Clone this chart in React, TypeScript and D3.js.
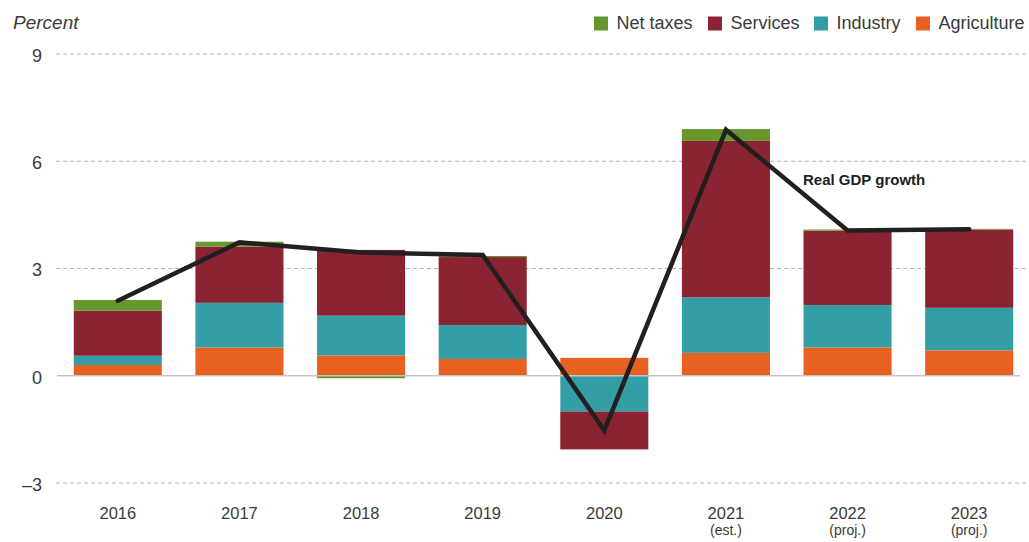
import React from "react";
import * as d3 from "d3";

const years = ["2016", "2017", "2018", "2019", "2020", "2021", "2022", "2023"];
const yearNotes = ["", "", "", "", "", "(est.)", "(proj.)", "(proj.)"];
const agriculture = [0.3, 0.79, 0.57, 0.47, 0.5, 0.64, 0.79, 0.71];
const industry = [0.26, 1.25, 1.11, 0.95, -1.0, 1.55, 1.19, 1.19];
const services = [1.26, 1.57, 1.84, 1.9, -1.06, 4.38, 2.08, 2.19];
const netTaxes = [0.3, 0.14, -0.07, 0.03, 0.0, 0.33, 0.03, 0.02];
const gdpGrowth = [2.1, 3.73, 3.45, 3.38, -1.53, 6.88, 4.06, 4.1];
const yTicks = [-3, 0, 3, 6, 9];

const seriesKeys = ["Agriculture", "Industry", "Services", "Net taxes"];
const legendOrder = ["Net taxes", "Services", "Industry", "Agriculture"];
const colors: Record<string, string> = {
  "Net taxes": "#67962c",
  Services: "#8a2433",
  Industry: "#339ea5",
  Agriculture: "#e86120",
};

const W = 1029;
const H = 542;
const FONT = "'Liberation Sans', Arial, Helvetica, sans-serif";
const TEXT = "#3a3a3a";

export default function App() {
  const rows = years.map((y, i) => ({
    year: y,
    Agriculture: agriculture[i],
    Industry: industry[i],
    Services: services[i],
    "Net taxes": netTaxes[i],
  }));

  const x = d3
    .scaleBand<string>()
    .domain(years)
    .range([57, 1030])
    .paddingInner(0.276)
    .paddingOuter(0.138);
  const y = d3.scaleLinear().domain([-3, 9]).range([483, 54]);

  const stack = d3
    .stack<any>()
    .keys(seriesKeys)
    .offset(d3.stackOffsetDiverging);
  const stacked = stack(rows);

  const line = d3
    .line<number>()
    .x((_, i) => (x(years[i]) as number) + x.bandwidth() / 2)
    .y((d) => y(d));

  const legendX = [594, 708, 814, 916];

  return (
    <div style={{ position: "absolute", left: 0, top: 0 }}>
      <svg width={W} height={H} style={{ display: "block", fontFamily: FONT }}>
        <rect width={W} height={H} fill="#ffffff" />
        {/* gridlines */}
        {yTicks
          .filter((t) => t !== 0)
          .map((t) => (
            <line
              key={t}
              x1={56}
              x2={1029}
              y1={y(t)}
              y2={y(t)}
              stroke="#b3b3b3"
              strokeWidth={1}
              strokeDasharray="4,3"
            />
          ))}
        {/* y tick labels */}
        {yTicks.map((t) => (
          <text
            key={t}
            x={42}
            y={y(t) + 3}
            textAnchor="end"
            dominantBaseline="middle"
            fontSize={18}
            fill={TEXT}
          >
            {t < 0 ? "\u2013" + Math.abs(t) : String(t)}
          </text>
        ))}
        <text x={13} y={29} fontSize={19} fontStyle="italic" fill={TEXT}>
          Percent
        </text>
        {/* bars */}
        {stacked.map((s) => (
          <g key={s.key} fill={colors[s.key]}>
            {s.map((d, i) => {
              const y0 = y(d[0]);
              const y1 = y(d[1]);
              const h = Math.abs(y0 - y1);
              if (h < 0.01) return null;
              return (
                <rect
                  key={i}
                  x={x(years[i])}
                  width={x.bandwidth()}
                  y={Math.min(y0, y1)}
                  height={h}
                />
              );
            })}
          </g>
        ))}
        {/* zero line */}
        <line
          x1={57}
          x2={1020}
          y1={y(0)}
          y2={y(0)}
          stroke="#c4c4c4"
          strokeWidth={1.5}
        />
        {/* GDP line */}
        <path
          d={line(gdpGrowth) || ""}
          fill="none"
          stroke="#231f20"
          strokeWidth={4.5}
          strokeLinejoin="miter"
          strokeLinecap="round"
        />
        <text x={803} y={185} fontSize={15} fontWeight="bold" fill="#231f20">
          Real GDP growth
        </text>
        {/* x labels */}
        {years.map((yr, i) => {
          const cx = (x(yr) as number) + x.bandwidth() / 2;
          return (
            <g key={yr}>
              <text x={cx} y={519} textAnchor="middle" fontSize={16.5} fill={TEXT}>
                {yr}
              </text>
              {yearNotes[i] && (
                <text x={cx} y={535} textAnchor="middle" fontSize={14} fill={TEXT}>
                  {yearNotes[i]}
                </text>
              )}
            </g>
          );
        })}
        {/* legend */}
        {legendOrder.map((k, i) => (
          <g key={k}>
            <rect x={legendX[i]} y={16.5} width={14} height={14} fill={colors[k]} />
            <text x={legendX[i] + 22.5} y={29} fontSize={18} fill={TEXT}>
              {k}
            </text>
          </g>
        ))}
      </svg>
    </div>
  );
}
